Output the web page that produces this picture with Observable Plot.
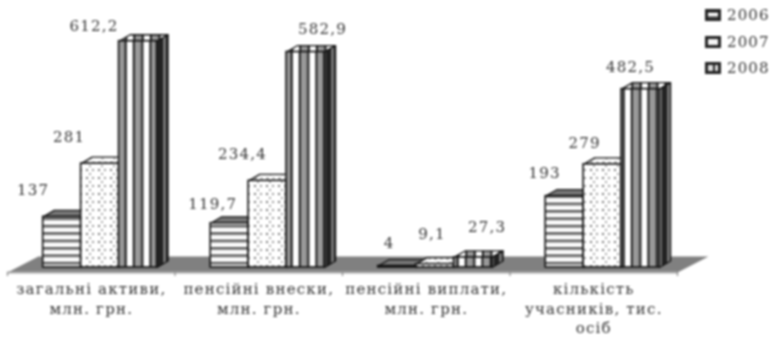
<!DOCTYPE html>
<html><head><meta charset="utf-8">
<script src="https://cdn.jsdelivr.net/npm/d3@7"></script>
<script src="https://cdn.jsdelivr.net/npm/@observablehq/plot@0.6"></script>
<style>
html,body{margin:0;background:#fff}
#c{position:relative;width:774px;height:337px;overflow:hidden;filter:blur(.85px)}
#c svg{display:block;position:absolute;left:0;top:0;background:#fff}
#c svg text{letter-spacing:1.2px}
#lg{position:absolute;left:705px;top:0;font:15px "DejaVu Serif";letter-spacing:1.1px;color:#333}
#lg div{position:absolute;left:0;white-space:nowrap;display:flex;align-items:center;height:16px}
#lg i{display:block;box-sizing:border-box;width:16px;height:12px;border:3px solid #222;margin-right:6px}
</style></head><body><div id="c"></div>
<script>
const categories = ["загальні активи,\nмлн. грн.", "пенсійні внески,\nмлн. грн.", "пенсійні виплати,\nмлн. грн.", "кількість\nучасників, тис.\nосіб"];
const years = ["2006", "2007", "2008"];
const values2006 = [137, 119.7, 4, 193];
const values2007 = [281, 234.4, 9.1, 279];
const values2008 = [612.2, 582.9, 27.3, 482.5];
const labels2006 = ["137", "119,7", "4", "193"];
const labels2007 = ["281", "234,4", "9,1", "279"];
const labels2008 = ["612,2", "582,9", "27,3", "482,5"];

const pad = .213, bw = .2265, dX = .066, dY = 17.5;
const bars = [values2006, values2007, values2008].flatMap((vals, s) => vals.map((v, g) => ({
  s, g, v, x1: g + pad + s * bw, x2: g + pad + (s + 1) * bw,
  label: [labels2006, labels2007, labels2008][s][g]
})));
const topFace = d => [[d.x1,d.v],[d.x2,d.v],[d.x2+dX,d.v+dY],[d.x1+dX,d.v+dY]].map(([x,y]) => ({id:`${d.s}-${d.g}`,x,y}));
const sideFace = d => [[d.x2,d.v],[d.x2+dX,d.v+dY],[d.x2+dX,dY],[d.x2,0]].map(([x,y]) => ({id:`${d.s}-${d.g}`,x,y}));
const floorY = -13.5, backY = 30, floorD = .185;
const floor = [[0,floorY],[4,floorY],[4+floorD,backY],[floorD,backY]].map(([x,y]) => ({x,y}));
const nudge = {
  "0-0":[-29,-22],"1-0":[-31,-22],"2-0":[-44,-10],
  "0-1":[-17,-14],"1-1":[-25,-22],"2-1":[17,-18],
  "0-2":[-8,-18],"1-2":[-3,-25],"2-2":[14,-25],
  "0-3":[-20,-18],"1-3":[-18,-16],"2-3":[-10,-17]
};
const fills = ["url(#h)","url(#d)","url(#v)"];
const defs = () => {
  const s = d3.create("svg:defs");
  const add = (id,w,h,html) => s.append("pattern").attr("id",id).attr("patternUnits","userSpaceOnUse").attr("width",w).attr("height",h).html(html);
  add("h",4,7.4,`<rect width="4" height="7.4" fill="#fff"/><rect y="3" width="4" height="1.6" fill="#333"/><rect y="4.6" width="4" height="1.4" fill="#aaa"/>`);
  add("d",12,8,`<rect width="12" height="8" fill="#fff"/><circle cx="3" cy="2" r="1" fill="#444"/><circle cx="9" cy="2" r="1" fill="#777"/><circle cx="6" cy="6" r="1" fill="#888"/>`);
  add("v",16.6,4,`<rect width="16.6" height="4" fill="#fff"/><rect x="0" width="2.2" height="4" fill="#111"/><rect x="2.2" width="6.1" height="4" fill="#999"/><rect x="8.3" width="2.2" height="4" fill="#111"/>`);
  add("vd",8,4,`<rect width="8" height="4" fill="#222"/><rect x="3" width="2" height="4" fill="#999"/>`);
  return s.node();
};
const textOpts = {fontFamily:"DejaVu Serif", fill:"#333", stroke:"none"};
const marks = [
  defs,
  Plot.line(floor,{x:"x",y:"y",curve:"linear-closed",fill:"#808080",stroke:"none"}),
  Plot.ruleY([floorY],{x1:0,x2:4,stroke:"#aaa",strokeWidth:2}),
  Plot.ruleX([0,1,2,3,4],{x:d=>d,y1:floorY,y2:floorY-11,stroke:"#888",strokeWidth:1.2}),
];
for (const s of [0,1,2]) {
  const sb = bars.filter(d=>d.s===s);
  marks.push(
    Plot.line(sb.flatMap(topFace),{x:"x",y:"y",z:"id",curve:"linear-closed",fill:s===0?"#777":fills[s],stroke:"#111",strokeWidth:1.3}),
    Plot.line(sb.flatMap(sideFace),{x:"x",y:"y",z:"id",curve:"linear-closed",fill:"url(#vd)",stroke:"#111",strokeWidth:1.3}),
    Plot.rect(sb,{x1:"x1",x2:"x2",y1:0,y2:"v",fill:fills[s],stroke:"#111",strokeWidth:1.6})
  );
}
for (const d of bars) {
  const [dx,dy] = nudge[`${d.s}-${d.g}`];
  marks.push(Plot.text([d],{x:d=>(d.x1+d.x2)/2,y:"v",text:"label",dx,dy,lineAnchor:"bottom",...textOpts,fontSize:15}));
}
marks.push(Plot.text(categories,{x:(d,i)=>i+.5,y:floorY-22,text:d=>d,lineAnchor:"top",textAnchor:"middle",lineHeight:1.3,...textOpts,fontSize:15}));

const chart = Plot.plot({
  width:774,height:337,margin:0,
  x:{domain:[0,4],range:[7,677],axis:null},
  y:{domain:[0,612.2],range:[267,40.7],axis:null},
  marks
});
const c = document.getElementById("c");
c.appendChild(chart);
const lg = document.createElement("div"); lg.id="lg";
const swatch = ["linear-gradient(#666 25%,#fff 25%,#fff 60%,#666 60%)","#f4f4f4","linear-gradient(90deg,#ddd 55%,#222 55%,#222 70%,#ddd 70%)"];
years.forEach((y,i)=>{
  const r=document.createElement("div"); r.style.top=(7+i*26.5)+"px";
  const b=document.createElement("i"); b.style.background=swatch[i];
  r.append(b, y); lg.appendChild(r);
});
c.appendChild(lg);
</script></body></html>
